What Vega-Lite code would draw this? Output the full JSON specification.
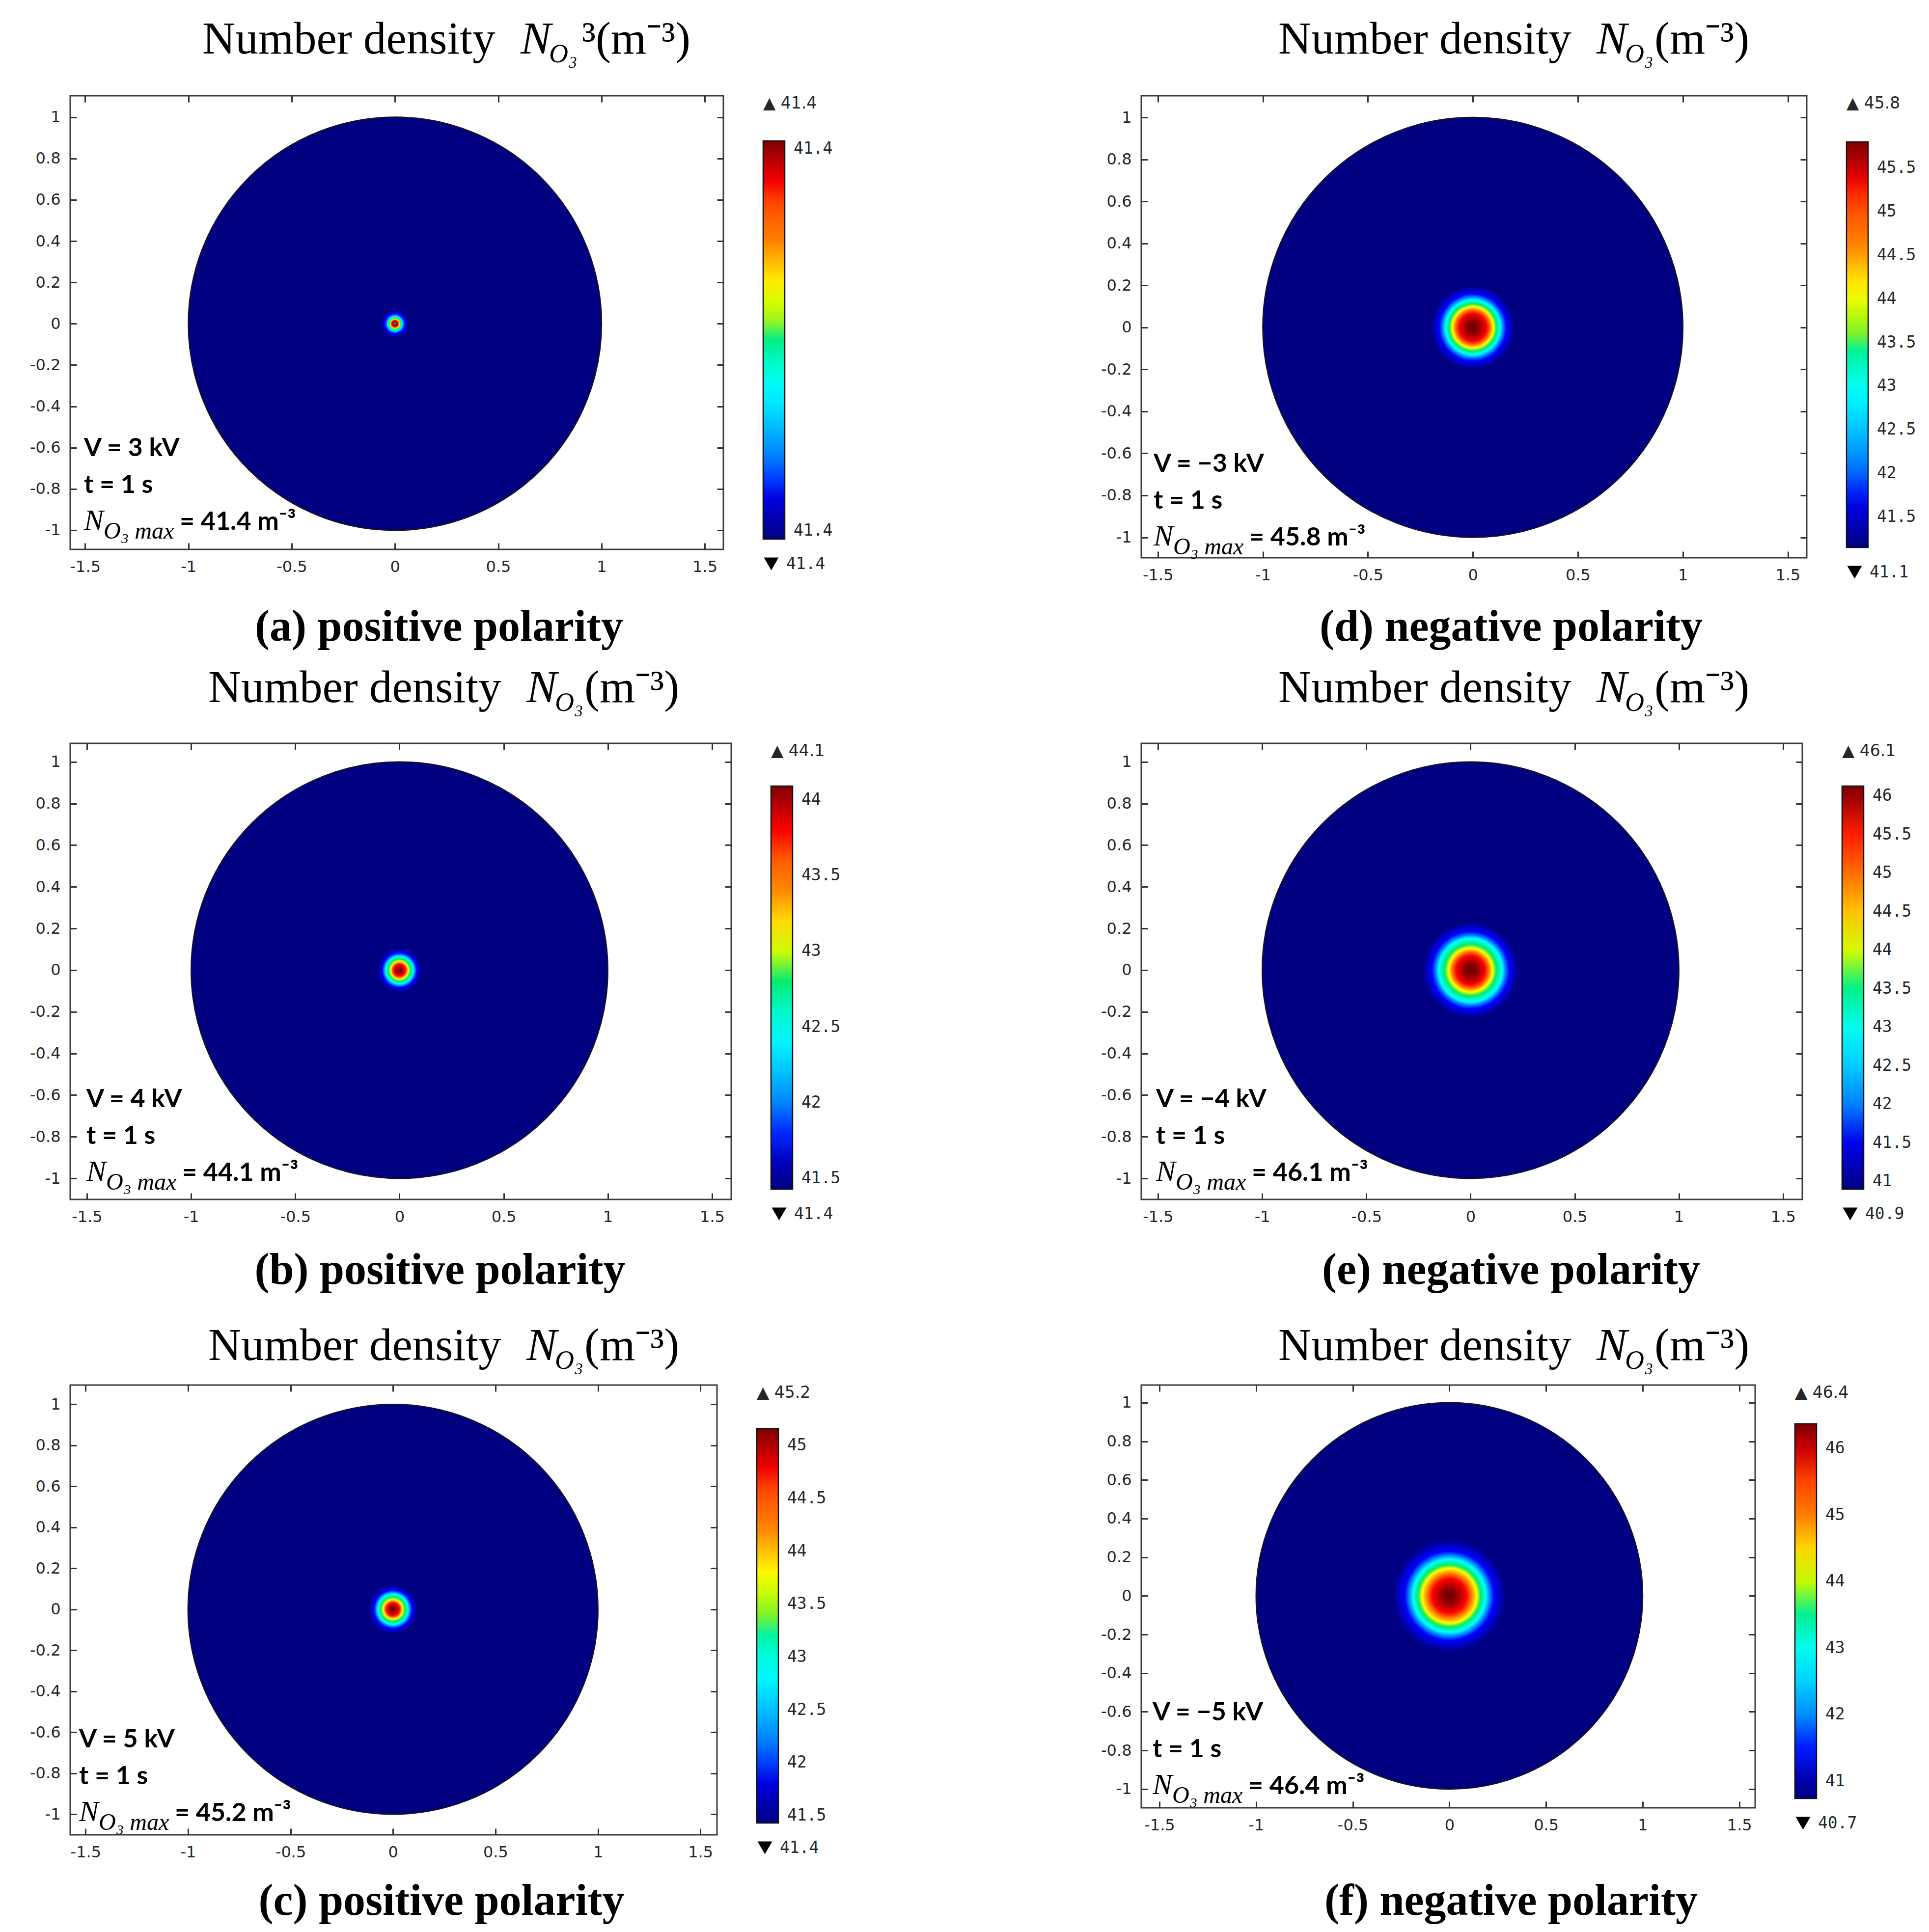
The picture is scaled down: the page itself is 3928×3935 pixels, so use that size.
{
"$schema":"https://vega.github.io/schema/vega-lite/v6.json",
"background":"white",
"padding":{"left":59,"top":33,"right":20,"bottom":20},
"datasets":{"p":[
{"id":"a","cx":0,"cy":0,"vmax":41.4,"lo":"41.4","t1":"Number density","t2":"N","t3":"O₃","t4":"³(m⁻³)","v":"V = 3 kV","tt":"t = 1 s","n1":"N","n2":"O₃ max","n3":"= 41.4 m⁻³","lab":"(a) positive polarity"},
{"id":"d","cx":0,"cy":0,"vmax":45.8,"lo":"41.1","t1":"Number density","t2":"N","t3":"O₃","t4":"(m⁻³)","v":"V = −3 kV","tt":"t = 1 s","n1":"N","n2":"O₃ max","n3":"= 45.8 m⁻³","lab":"(d) negative polarity"},
{"id":"b","cx":0,"cy":0,"vmax":44.1,"lo":"41.4","t1":"Number density","t2":"N","t3":"O₃","t4":"(m⁻³)","v":"V = 4 kV","tt":"t = 1 s","n1":"N","n2":"O₃ max","n3":"= 44.1 m⁻³","lab":"(b) positive polarity"},
{"id":"e","cx":0,"cy":0,"vmax":46.1,"lo":"40.9","t1":"Number density","t2":"N","t3":"O₃","t4":"(m⁻³)","v":"V = −4 kV","tt":"t = 1 s","n1":"N","n2":"O₃ max","n3":"= 46.1 m⁻³","lab":"(e) negative polarity"},
{"id":"c","cx":0,"cy":0,"vmax":45.2,"lo":"41.4","t1":"Number density","t2":"N","t3":"O₃","t4":"(m⁻³)","v":"V = 5 kV","tt":"t = 1 s","n1":"N","n2":"O₃ max","n3":"= 45.2 m⁻³","lab":"(c) positive polarity"},
{"id":"f","cx":0,"cy":0,"vmax":46.4,"lo":"40.7","t1":"Number density","t2":"N","t3":"O₃","t4":"(m⁻³)","v":"V = −5 kV","tt":"t = 1 s","n1":"N","n2":"O₃ max","n3":"= 46.4 m⁻³","lab":"(f) negative polarity"}
]},
"data":{"name":"p"},
"columns":2,
"spacing":{"row":378,"column":835},
"bounds":"flush",
"align":"each",
"resolve":{"scale":{"x":"independent","y":"independent","color":"independent","shape":"independent"},"legend":{"color":"independent","shape":"independent"}},
"config":{
"view":{"stroke":"#3c3c3c","strokeWidth":3},
"axis":{"grid":false,"domain":false,"labelFont":"DejaVu Sans","labelFontSize":32,"labelColor":"#262626","tickColor":"#333333","tickWidth":3,"labelFlush":false,"labelOverlap":false},
"legend":{"orient":"right","offset":79,"padding":0,"labelFont":"DejaVu Sans Mono","labelFontSize":33,"labelColor":"#262626","titleFont":"DejaVu Sans","titleFontSize":33,"titleFontWeight":"normal","titleColor":"#262626"},
"style":{
"ttl":{"font":"Liberation Serif","fontSize":93,"align":"left","baseline":"alphabetic","color":"#000000"},
"ttlN":{"font":"Liberation Serif","fontSize":93,"fontStyle":"italic","align":"left","baseline":"alphabetic","color":"#000000"},
"ttlS":{"font":"Liberation Serif","fontSize":54,"fontStyle":"italic","align":"left","baseline":"alphabetic","color":"#000000"},
"ann":{"font":"Lato","fontSize":52,"fontWeight":"bold","align":"left","baseline":"alphabetic","color":"#000000"},
"annN":{"font":"Liberation Serif","fontSize":60,"fontStyle":"italic","align":"left","baseline":"alphabetic","color":"#000000"},
"annS":{"font":"Liberation Serif","fontSize":48,"fontStyle":"italic","align":"left","baseline":"alphabetic","color":"#000000"},
"lab":{"font":"Liberation Serif","fontSize":90,"fontWeight":"bold","align":"center","baseline":"alphabetic","color":"#000000"}
}},
"concat":[
{"width":1330,"height":924,"transform":[{"filter":"datum.id === 'a'"}],"resolve":{"axis":{"x":"independent","y":"independent"}},"layer":[
{"mark":{"type":"point","shape":"circle","filled":true,"opacity":1,"size":707954,"stroke":"#14142a","strokeWidth":2.5,"fill":{"gradient":"radial","x1":0.5,"y1":0.5,"r1":0,"x2":0.5,"y2":0.5,"r2":0.5,"stops":[{"offset":0,"color":"#600000"},{"offset":0.006,"color":"#9a0000"},{"offset":0.016,"color":"#ff0000"},{"offset":0.019,"color":"#ff8000"},{"offset":0.022,"color":"#ffff00"},{"offset":0.025,"color":"#70f030"},{"offset":0.028,"color":"#00ec70"},{"offset":0.034,"color":"#00ffff"},{"offset":0.041,"color":"#0080ff"},{"offset":0.048,"color":"#0000ff"},{"offset":0.067,"color":"#000080"},{"offset":1,"color":"#000080"}]}},
"encoding":{"x":{"field":"cx","type":"quantitative","scale":{"domain":[-1.572,1.59],"nice":false,"zero":false},"axis":{"orient":"bottom","values":[-1.5,-1,-0.5,0,0.5,1,1.5],"ticks":false,"labelPadding":20,"labelExpr":"'' + datum.value","title":null}},"y":{"field":"cy","type":"quantitative","scale":{"domain":[-1.093,1.104],"nice":false,"zero":false},"axis":{"orient":"left","values":[-1,-0.8,-0.6,-0.4,-0.2,0,0.2,0.4,0.6,0.8,1],"ticks":false,"labelPadding":20,"labelExpr":"'' + datum.value","title":null}}}},
{"mark":{"type":"point","opacity":0},"encoding":{"x":{"field":"cx","type":"quantitative","axis":{"orient":"bottom","values":[-1.5,-1,-0.5,0,0.5,1,1.5],"labels":false,"tickSize":13,"offset":-13,"title":null}},"y":{"field":"cy","type":"quantitative","axis":{"orient":"left","values":[-1,-0.8,-0.6,-0.4,-0.2,0,0.2,0.4,0.6,0.8,1],"labels":false,"tickSize":13,"offset":-13,"title":null}}}},
{"mark":{"type":"point","opacity":0},"encoding":{"x":{"field":"cx","type":"quantitative","axis":{"orient":"top","values":[-1.5,-1,-0.5,0,0.5,1,1.5],"labels":false,"tickSize":13,"offset":-13,"title":null}},"y":{"field":"cy","type":"quantitative","axis":{"orient":"right","values":[-1,-0.8,-0.6,-0.4,-0.2,0,0.2,0.4,0.6,0.8,1],"labels":false,"tickSize":13,"offset":-13,"title":null}}}},
{"mark":{"type":"point","filled":true,"opacity":1,"size":20},"encoding":{"x":{"field":"cx","type":"quantitative","axis":null},"y":{"field":"cy","type":"quantitative","axis":null},
"color":{"field":"vmax","type":"quantitative","scale":{"domain":[41.395,41.3963,41.3988,41.40015,41.4002,41.4013,41.4025,41.4039,41.405],"range":["#000080","#0000ff","#00ffff","#00ec70","#70f030","#ffff00","#ff8000","#ff0000","#800000"]},"legend":{"type":"gradient","direction":"vertical","gradientLength":811,"gradientThickness":44,"gradientStrokeColor":"#111111","gradientStrokeWidth":2.5,"values":[41.395,41.405],"labelExpr":"format(datum.value, '.1f')","labelOverlap":false,"labelOffset":18,"title":"▲ 41.4","titlePadding":59}},
"shape":{"field":"lo","type":"nominal","scale":{"range":["triangle-down"]},"legend":{"title":" ","titleFontSize":8,"titlePadding":16,"symbolSize":900,"symbolFillColor":"#000000","symbolStrokeColor":"#000000","symbolStrokeWidth":0,"labelOffset":14,"direction":"vertical"}}}},
{"mark":{"type":"text","style":"ttl","dx":269,"dy":-86},"encoding":{"x":{"datum":-1.572,"type":"quantitative","axis":null},"y":{"datum":1.104,"type":"quantitative","axis":null},"text":{"field":"t1"}}},
{"mark":{"type":"text","style":"ttlN","dx":917,"dy":-86},"encoding":{"x":{"datum":-1.572,"type":"quantitative","axis":null},"y":{"datum":1.104,"type":"quantitative","axis":null},"text":{"field":"t2"}}},
{"mark":{"type":"text","style":"ttlS","dx":975,"dy":-68},"encoding":{"x":{"datum":-1.572,"type":"quantitative","axis":null},"y":{"datum":1.104,"type":"quantitative","axis":null},"text":{"field":"t3"}}},
{"mark":{"type":"text","style":"ttl","dx":1042,"dy":-86},"encoding":{"x":{"datum":-1.572,"type":"quantitative","axis":null},"y":{"datum":1.104,"type":"quantitative","axis":null},"text":{"field":"t4"}}},
{"mark":{"type":"text","style":"ann","dx":28,"dy":-190},"encoding":{"x":{"datum":-1.572,"type":"quantitative","axis":null},"y":{"datum":-1.093,"type":"quantitative","axis":null},"text":{"field":"v"}}},
{"mark":{"type":"text","style":"ann","dx":28,"dy":-115},"encoding":{"x":{"datum":-1.572,"type":"quantitative","axis":null},"y":{"datum":-1.093,"type":"quantitative","axis":null},"text":{"field":"tt"}}},
{"mark":{"type":"text","style":"annN","dx":28,"dy":-40},"encoding":{"x":{"datum":-1.572,"type":"quantitative","axis":null},"y":{"datum":-1.093,"type":"quantitative","axis":null},"text":{"field":"n1"}}},
{"mark":{"type":"text","style":"annS","dx":68,"dy":-22},"encoding":{"x":{"datum":-1.572,"type":"quantitative","axis":null},"y":{"datum":-1.093,"type":"quantitative","axis":null},"text":{"field":"n2"}}},
{"mark":{"type":"text","style":"ann","dx":223,"dy":-40},"encoding":{"x":{"datum":-1.572,"type":"quantitative","axis":null},"y":{"datum":-1.093,"type":"quantitative","axis":null},"text":{"field":"n3"}}},
{"mark":{"type":"text","style":"lab","dx":751,"dy":186},"encoding":{"x":{"datum":-1.572,"type":"quantitative","axis":null},"y":{"datum":-1.093,"type":"quantitative","axis":null},"text":{"field":"lab"}}}
]},
{"width":1355,"height":941,"transform":[{"filter":"datum.id === 'd'"}],"resolve":{"axis":{"x":"independent","y":"independent"}},"layer":[
{"mark":{"type":"point","shape":"circle","filled":true,"opacity":1,"size":731709,"stroke":"#14142a","strokeWidth":2.5,"fill":{"gradient":"radial","x1":0.5,"y1":0.5,"r1":0,"x2":0.5,"y2":0.5,"r2":0.5,"stops":[{"offset":0,"color":"#600000"},{"offset":0.035,"color":"#9a0000"},{"offset":0.066,"color":"#ff0000"},{"offset":0.084,"color":"#ff8000"},{"offset":0.098,"color":"#ffff00"},{"offset":0.107,"color":"#70f030"},{"offset":0.113,"color":"#00ec70"},{"offset":0.13,"color":"#00ffff"},{"offset":0.145,"color":"#0080ff"},{"offset":0.16,"color":"#0000ff"},{"offset":0.2,"color":"#000080"},{"offset":1,"color":"#000080"}]}},
"encoding":{"x":{"field":"cx","type":"quantitative","scale":{"domain":[-1.579,1.59],"nice":false,"zero":false},"axis":{"orient":"bottom","values":[-1.5,-1,-0.5,0,0.5,1,1.5],"ticks":false,"labelPadding":20,"labelExpr":"'' + datum.value","title":null}},"y":{"field":"cy","type":"quantitative","scale":{"domain":[-1.097,1.103],"nice":false,"zero":false},"axis":{"orient":"left","values":[-1,-0.8,-0.6,-0.4,-0.2,0,0.2,0.4,0.6,0.8,1],"ticks":false,"labelPadding":20,"labelExpr":"'' + datum.value","title":null}}}},
{"mark":{"type":"point","opacity":0},"encoding":{"x":{"field":"cx","type":"quantitative","axis":{"orient":"bottom","values":[-1.5,-1,-0.5,0,0.5,1,1.5],"labels":false,"tickSize":13,"offset":-13,"title":null}},"y":{"field":"cy","type":"quantitative","axis":{"orient":"left","values":[-1,-0.8,-0.6,-0.4,-0.2,0,0.2,0.4,0.6,0.8,1],"labels":false,"tickSize":13,"offset":-13,"title":null}}}},
{"mark":{"type":"point","opacity":0},"encoding":{"x":{"field":"cx","type":"quantitative","axis":{"orient":"top","values":[-1.5,-1,-0.5,0,0.5,1,1.5],"labels":false,"tickSize":13,"offset":-13,"title":null}},"y":{"field":"cy","type":"quantitative","axis":{"orient":"right","values":[-1,-0.8,-0.6,-0.4,-0.2,0,0.2,0.4,0.6,0.8,1],"labels":false,"tickSize":13,"offset":-13,"title":null}}}},
{"mark":{"type":"point","filled":true,"opacity":1,"size":20},"encoding":{"x":{"field":"cx","type":"quantitative","axis":null},"y":{"field":"cy","type":"quantitative","axis":null},
"color":{"field":"vmax","type":"quantitative","scale":{"domain":[41.15,41.7545,42.917,43.54475,43.568,44.0795,44.6375,45.2885,45.8],"range":["#000080","#0000ff","#00ffff","#00ec70","#70f030","#ffff00","#ff8000","#ff0000","#800000"]},"legend":{"type":"gradient","direction":"vertical","gradientLength":826,"gradientThickness":44,"gradientStrokeColor":"#111111","gradientStrokeWidth":2.5,"values":[41.5,42,42.5,43,43.5,44,44.5,45,45.5],"labelExpr":"format(datum.value, '~g')","labelOverlap":false,"labelOffset":18,"title":"▲ 45.8","titlePadding":61}},
"shape":{"field":"lo","type":"nominal","scale":{"range":["triangle-down"]},"legend":{"title":" ","titleFontSize":8,"titlePadding":16,"symbolSize":900,"symbolFillColor":"#000000","symbolStrokeColor":"#000000","symbolStrokeWidth":0,"labelOffset":14,"direction":"vertical"}}}},
{"mark":{"type":"text","style":"ttl","dx":279,"dy":-86},"encoding":{"x":{"datum":-1.579,"type":"quantitative","axis":null},"y":{"datum":1.103,"type":"quantitative","axis":null},"text":{"field":"t1"}}},
{"mark":{"type":"text","style":"ttlN","dx":927,"dy":-86},"encoding":{"x":{"datum":-1.579,"type":"quantitative","axis":null},"y":{"datum":1.103,"type":"quantitative","axis":null},"text":{"field":"t2"}}},
{"mark":{"type":"text","style":"ttlS","dx":985,"dy":-68},"encoding":{"x":{"datum":-1.579,"type":"quantitative","axis":null},"y":{"datum":1.103,"type":"quantitative","axis":null},"text":{"field":"t3"}}},
{"mark":{"type":"text","style":"ttl","dx":1045,"dy":-86},"encoding":{"x":{"datum":-1.579,"type":"quantitative","axis":null},"y":{"datum":1.103,"type":"quantitative","axis":null},"text":{"field":"t4"}}},
{"mark":{"type":"text","style":"ann","dx":25,"dy":-175},"encoding":{"x":{"datum":-1.579,"type":"quantitative","axis":null},"y":{"datum":-1.097,"type":"quantitative","axis":null},"text":{"field":"v"}}},
{"mark":{"type":"text","style":"ann","dx":25,"dy":-100},"encoding":{"x":{"datum":-1.579,"type":"quantitative","axis":null},"y":{"datum":-1.097,"type":"quantitative","axis":null},"text":{"field":"tt"}}},
{"mark":{"type":"text","style":"annN","dx":25,"dy":-25},"encoding":{"x":{"datum":-1.579,"type":"quantitative","axis":null},"y":{"datum":-1.097,"type":"quantitative","axis":null},"text":{"field":"n1"}}},
{"mark":{"type":"text","style":"annS","dx":65,"dy":-7},"encoding":{"x":{"datum":-1.579,"type":"quantitative","axis":null},"y":{"datum":-1.097,"type":"quantitative","axis":null},"text":{"field":"n2"}}},
{"mark":{"type":"text","style":"ann","dx":220,"dy":-25},"encoding":{"x":{"datum":-1.579,"type":"quantitative","axis":null},"y":{"datum":-1.097,"type":"quantitative","axis":null},"text":{"field":"n3"}}},
{"mark":{"type":"text","style":"lab","dx":753,"dy":169},"encoding":{"x":{"datum":-1.579,"type":"quantitative","axis":null},"y":{"datum":-1.097,"type":"quantitative","axis":null},"text":{"field":"lab"}}}
]},
{"width":1346,"height":929,"transform":[{"filter":"datum.id === 'b'"}],"resolve":{"axis":{"x":"independent","y":"independent"}},"layer":[
{"mark":{"type":"point","shape":"circle","filled":true,"opacity":1,"size":719783,"stroke":"#14142a","strokeWidth":2.5,"fill":{"gradient":"radial","x1":0.5,"y1":0.5,"r1":0,"x2":0.5,"y2":0.5,"r2":0.5,"stops":[{"offset":0,"color":"#600000"},{"offset":0.012,"color":"#9a0000"},{"offset":0.028,"color":"#ff0000"},{"offset":0.036,"color":"#ff8000"},{"offset":0.042,"color":"#ffff00"},{"offset":0.049,"color":"#70f030"},{"offset":0.053,"color":"#00ec70"},{"offset":0.066,"color":"#00ffff"},{"offset":0.075,"color":"#0080ff"},{"offset":0.083,"color":"#0000ff"},{"offset":0.106,"color":"#000080"},{"offset":1,"color":"#000080"}]}},
"encoding":{"x":{"field":"cx","type":"quantitative","scale":{"domain":[-1.58,1.592],"nice":false,"zero":false},"axis":{"orient":"bottom","values":[-1.5,-1,-0.5,0,0.5,1,1.5],"ticks":false,"labelPadding":20,"labelExpr":"'' + datum.value","title":null}},"y":{"field":"cy","type":"quantitative","scale":{"domain":[-1.101,1.089],"nice":false,"zero":false},"axis":{"orient":"left","values":[-1,-0.8,-0.6,-0.4,-0.2,0,0.2,0.4,0.6,0.8,1],"ticks":false,"labelPadding":20,"labelExpr":"'' + datum.value","title":null}}}},
{"mark":{"type":"point","opacity":0},"encoding":{"x":{"field":"cx","type":"quantitative","axis":{"orient":"bottom","values":[-1.5,-1,-0.5,0,0.5,1,1.5],"labels":false,"tickSize":13,"offset":-13,"title":null}},"y":{"field":"cy","type":"quantitative","axis":{"orient":"left","values":[-1,-0.8,-0.6,-0.4,-0.2,0,0.2,0.4,0.6,0.8,1],"labels":false,"tickSize":13,"offset":-13,"title":null}}}},
{"mark":{"type":"point","opacity":0},"encoding":{"x":{"field":"cx","type":"quantitative","axis":{"orient":"top","values":[-1.5,-1,-0.5,0,0.5,1,1.5],"labels":false,"tickSize":13,"offset":-13,"title":null}},"y":{"field":"cy","type":"quantitative","axis":{"orient":"right","values":[-1,-0.8,-0.6,-0.4,-0.2,0,0.2,0.4,0.6,0.8,1],"labels":false,"tickSize":13,"offset":-13,"title":null}}}},
{"mark":{"type":"point","filled":true,"opacity":1,"size":20},"encoding":{"x":{"field":"cx","type":"quantitative","axis":null},"y":{"field":"cy","type":"quantitative","axis":null},
"color":{"field":"vmax","type":"quantitative","scale":{"domain":[41.43,41.7758,42.4408,42.7999,42.8132,43.1058,43.425,43.7974,44.09],"range":["#000080","#0000ff","#00ffff","#00ec70","#70f030","#ffff00","#ff8000","#ff0000","#800000"]},"legend":{"type":"gradient","direction":"vertical","gradientLength":821,"gradientThickness":44,"gradientStrokeColor":"#111111","gradientStrokeWidth":2.5,"values":[41.5,42,42.5,43,43.5,44],"labelExpr":"format(datum.value, '~g')","labelOverlap":false,"labelOffset":18,"title":"▲ 44.1","titlePadding":54}},
"shape":{"field":"lo","type":"nominal","scale":{"range":["triangle-down"]},"legend":{"title":" ","titleFontSize":8,"titlePadding":16,"symbolSize":900,"symbolFillColor":"#000000","symbolStrokeColor":"#000000","symbolStrokeWidth":0,"labelOffset":14,"direction":"vertical"}}}},
{"mark":{"type":"text","style":"ttl","dx":281,"dy":-84},"encoding":{"x":{"datum":-1.58,"type":"quantitative","axis":null},"y":{"datum":1.089,"type":"quantitative","axis":null},"text":{"field":"t1"}}},
{"mark":{"type":"text","style":"ttlN","dx":929,"dy":-84},"encoding":{"x":{"datum":-1.58,"type":"quantitative","axis":null},"y":{"datum":1.089,"type":"quantitative","axis":null},"text":{"field":"t2"}}},
{"mark":{"type":"text","style":"ttlS","dx":987,"dy":-66},"encoding":{"x":{"datum":-1.58,"type":"quantitative","axis":null},"y":{"datum":1.089,"type":"quantitative","axis":null},"text":{"field":"t3"}}},
{"mark":{"type":"text","style":"ttl","dx":1047,"dy":-84},"encoding":{"x":{"datum":-1.58,"type":"quantitative","axis":null},"y":{"datum":1.089,"type":"quantitative","axis":null},"text":{"field":"t4"}}},
{"mark":{"type":"text","style":"ann","dx":33,"dy":-188},"encoding":{"x":{"datum":-1.58,"type":"quantitative","axis":null},"y":{"datum":-1.101,"type":"quantitative","axis":null},"text":{"field":"v"}}},
{"mark":{"type":"text","style":"ann","dx":33,"dy":-113},"encoding":{"x":{"datum":-1.58,"type":"quantitative","axis":null},"y":{"datum":-1.101,"type":"quantitative","axis":null},"text":{"field":"tt"}}},
{"mark":{"type":"text","style":"annN","dx":33,"dy":-38},"encoding":{"x":{"datum":-1.58,"type":"quantitative","axis":null},"y":{"datum":-1.101,"type":"quantitative","axis":null},"text":{"field":"n1"}}},
{"mark":{"type":"text","style":"annS","dx":73,"dy":-20},"encoding":{"x":{"datum":-1.58,"type":"quantitative","axis":null},"y":{"datum":-1.101,"type":"quantitative","axis":null},"text":{"field":"n2"}}},
{"mark":{"type":"text","style":"ann","dx":228,"dy":-38},"encoding":{"x":{"datum":-1.58,"type":"quantitative","axis":null},"y":{"datum":-1.101,"type":"quantitative","axis":null},"text":{"field":"n3"}}},
{"mark":{"type":"text","style":"lab","dx":753,"dy":172},"encoding":{"x":{"datum":-1.58,"type":"quantitative","axis":null},"y":{"datum":-1.101,"type":"quantitative","axis":null},"text":{"field":"lab"}}}
]},
{"width":1346,"height":929,"transform":[{"filter":"datum.id === 'e'"}],"resolve":{"axis":{"x":"independent","y":"independent"}},"layer":[
{"mark":{"type":"point","shape":"circle","filled":true,"opacity":1,"size":719783,"stroke":"#14142a","strokeWidth":2.5,"fill":{"gradient":"radial","x1":0.5,"y1":0.5,"r1":0,"x2":0.5,"y2":0.5,"r2":0.5,"stops":[{"offset":0,"color":"#600000"},{"offset":0.037,"color":"#9a0000"},{"offset":0.069,"color":"#ff0000"},{"offset":0.089,"color":"#ff8000"},{"offset":0.105,"color":"#ffff00"},{"offset":0.117,"color":"#70f030"},{"offset":0.124,"color":"#00ec70"},{"offset":0.153,"color":"#00ffff"},{"offset":0.168,"color":"#0080ff"},{"offset":0.186,"color":"#0000ff"},{"offset":0.231,"color":"#000080"},{"offset":1,"color":"#000080"}]}},
"encoding":{"x":{"field":"cx","type":"quantitative","scale":{"domain":[-1.58,1.592],"nice":false,"zero":false},"axis":{"orient":"bottom","values":[-1.5,-1,-0.5,0,0.5,1,1.5],"ticks":false,"labelPadding":20,"labelExpr":"'' + datum.value","title":null}},"y":{"field":"cy","type":"quantitative","scale":{"domain":[-1.101,1.089],"nice":false,"zero":false},"axis":{"orient":"left","values":[-1,-0.8,-0.6,-0.4,-0.2,0,0.2,0.4,0.6,0.8,1],"ticks":false,"labelPadding":20,"labelExpr":"'' + datum.value","title":null}}}},
{"mark":{"type":"point","opacity":0},"encoding":{"x":{"field":"cx","type":"quantitative","axis":{"orient":"bottom","values":[-1.5,-1,-0.5,0,0.5,1,1.5],"labels":false,"tickSize":13,"offset":-13,"title":null}},"y":{"field":"cy","type":"quantitative","axis":{"orient":"left","values":[-1,-0.8,-0.6,-0.4,-0.2,0,0.2,0.4,0.6,0.8,1],"labels":false,"tickSize":13,"offset":-13,"title":null}}}},
{"mark":{"type":"point","opacity":0},"encoding":{"x":{"field":"cx","type":"quantitative","axis":{"orient":"top","values":[-1.5,-1,-0.5,0,0.5,1,1.5],"labels":false,"tickSize":13,"offset":-13,"title":null}},"y":{"field":"cy","type":"quantitative","axis":{"orient":"right","values":[-1,-0.8,-0.6,-0.4,-0.2,0,0.2,0.4,0.6,0.8,1],"labels":false,"tickSize":13,"offset":-13,"title":null}}}},
{"mark":{"type":"point","filled":true,"opacity":1,"size":20},"encoding":{"x":{"field":"cx","type":"quantitative","axis":null},"y":{"field":"cy","type":"quantitative","axis":null},
"color":{"field":"vmax","type":"quantitative","scale":{"domain":[40.9,41.5799,42.8874,43.59345,43.6196,44.1949,44.8225,45.5547,46.13],"range":["#000080","#0000ff","#00ffff","#00ec70","#70f030","#ffff00","#ff8000","#ff0000","#800000"]},"legend":{"type":"gradient","direction":"vertical","gradientLength":821,"gradientThickness":44,"gradientStrokeColor":"#111111","gradientStrokeWidth":2.5,"values":[41,41.5,42,42.5,43,43.5,44,44.5,45,45.5,46],"labelExpr":"format(datum.value, '~g')","labelOverlap":false,"labelOffset":18,"title":"▲ 46.1","titlePadding":54}},
"shape":{"field":"lo","type":"nominal","scale":{"range":["triangle-down"]},"legend":{"title":" ","titleFontSize":8,"titlePadding":16,"symbolSize":900,"symbolFillColor":"#000000","symbolStrokeColor":"#000000","symbolStrokeWidth":0,"labelOffset":14,"direction":"vertical"}}}},
{"mark":{"type":"text","style":"ttl","dx":279,"dy":-84},"encoding":{"x":{"datum":-1.58,"type":"quantitative","axis":null},"y":{"datum":1.089,"type":"quantitative","axis":null},"text":{"field":"t1"}}},
{"mark":{"type":"text","style":"ttlN","dx":927,"dy":-84},"encoding":{"x":{"datum":-1.58,"type":"quantitative","axis":null},"y":{"datum":1.089,"type":"quantitative","axis":null},"text":{"field":"t2"}}},
{"mark":{"type":"text","style":"ttlS","dx":985,"dy":-66},"encoding":{"x":{"datum":-1.58,"type":"quantitative","axis":null},"y":{"datum":1.089,"type":"quantitative","axis":null},"text":{"field":"t3"}}},
{"mark":{"type":"text","style":"ttl","dx":1045,"dy":-84},"encoding":{"x":{"datum":-1.58,"type":"quantitative","axis":null},"y":{"datum":1.089,"type":"quantitative","axis":null},"text":{"field":"t4"}}},
{"mark":{"type":"text","style":"ann","dx":30,"dy":-188},"encoding":{"x":{"datum":-1.58,"type":"quantitative","axis":null},"y":{"datum":-1.101,"type":"quantitative","axis":null},"text":{"field":"v"}}},
{"mark":{"type":"text","style":"ann","dx":30,"dy":-113},"encoding":{"x":{"datum":-1.58,"type":"quantitative","axis":null},"y":{"datum":-1.101,"type":"quantitative","axis":null},"text":{"field":"tt"}}},
{"mark":{"type":"text","style":"annN","dx":30,"dy":-38},"encoding":{"x":{"datum":-1.58,"type":"quantitative","axis":null},"y":{"datum":-1.101,"type":"quantitative","axis":null},"text":{"field":"n1"}}},
{"mark":{"type":"text","style":"annS","dx":70,"dy":-20},"encoding":{"x":{"datum":-1.58,"type":"quantitative","axis":null},"y":{"datum":-1.101,"type":"quantitative","axis":null},"text":{"field":"n2"}}},
{"mark":{"type":"text","style":"ann","dx":225,"dy":-38},"encoding":{"x":{"datum":-1.58,"type":"quantitative","axis":null},"y":{"datum":-1.101,"type":"quantitative","axis":null},"text":{"field":"n3"}}},
{"mark":{"type":"text","style":"lab","dx":753,"dy":172},"encoding":{"x":{"datum":-1.58,"type":"quantitative","axis":null},"y":{"datum":-1.101,"type":"quantitative","axis":null},"text":{"field":"lab"}}}
]},
{"width":1317,"height":916,"transform":[{"filter":"datum.id === 'c'"}],"resolve":{"axis":{"x":"independent","y":"independent"}},"layer":[
{"mark":{"type":"point","shape":"circle","filled":true,"opacity":1,"size":696891,"stroke":"#14142a","strokeWidth":2.5,"fill":{"gradient":"radial","x1":0.5,"y1":0.5,"r1":0,"x2":0.5,"y2":0.5,"r2":0.5,"stops":[{"offset":0,"color":"#600000"},{"offset":0.014,"color":"#9a0000"},{"offset":0.031,"color":"#ff0000"},{"offset":0.04,"color":"#ff8000"},{"offset":0.047,"color":"#ffff00"},{"offset":0.055,"color":"#70f030"},{"offset":0.06,"color":"#00ec70"},{"offset":0.074,"color":"#00ffff"},{"offset":0.084,"color":"#0080ff"},{"offset":0.093,"color":"#0000ff"},{"offset":0.12,"color":"#000080"},{"offset":1,"color":"#000080"}]}},
"encoding":{"x":{"field":"cx","type":"quantitative","scale":{"domain":[-1.575,1.581],"nice":false,"zero":false},"axis":{"orient":"bottom","values":[-1.5,-1,-0.5,0,0.5,1,1.5],"ticks":false,"labelPadding":20,"labelExpr":"'' + datum.value","title":null}},"y":{"field":"cy","type":"quantitative","scale":{"domain":[-1.1,1.094],"nice":false,"zero":false},"axis":{"orient":"left","values":[-1,-0.8,-0.6,-0.4,-0.2,0,0.2,0.4,0.6,0.8,1],"ticks":false,"labelPadding":20,"labelExpr":"'' + datum.value","title":null}}}},
{"mark":{"type":"point","opacity":0},"encoding":{"x":{"field":"cx","type":"quantitative","axis":{"orient":"bottom","values":[-1.5,-1,-0.5,0,0.5,1,1.5],"labels":false,"tickSize":13,"offset":-13,"title":null}},"y":{"field":"cy","type":"quantitative","axis":{"orient":"left","values":[-1,-0.8,-0.6,-0.4,-0.2,0,0.2,0.4,0.6,0.8,1],"labels":false,"tickSize":13,"offset":-13,"title":null}}}},
{"mark":{"type":"point","opacity":0},"encoding":{"x":{"field":"cx","type":"quantitative","axis":{"orient":"top","values":[-1.5,-1,-0.5,0,0.5,1,1.5],"labels":false,"tickSize":13,"offset":-13,"title":null}},"y":{"field":"cy","type":"quantitative","axis":{"orient":"right","values":[-1,-0.8,-0.6,-0.4,-0.2,0,0.2,0.4,0.6,0.8,1],"labels":false,"tickSize":13,"offset":-13,"title":null}}}},
{"mark":{"type":"point","filled":true,"opacity":1,"size":20},"encoding":{"x":{"field":"cx","type":"quantitative","axis":null},"y":{"field":"cy","type":"quantitative","axis":null},
"color":{"field":"vmax","type":"quantitative","scale":{"domain":[41.43,41.9149,42.8474,43.35095,43.3696,43.7799,44.2275,44.7497,45.16],"range":["#000080","#0000ff","#00ffff","#00ec70","#70f030","#ffff00","#ff8000","#ff0000","#800000"]},"legend":{"type":"gradient","direction":"vertical","gradientLength":803,"gradientThickness":44,"gradientStrokeColor":"#111111","gradientStrokeWidth":2.5,"values":[41.5,42,42.5,43,43.5,44,44.5,45],"labelExpr":"format(datum.value, '~g')","labelOverlap":false,"labelOffset":18,"title":"▲ 45.2","titlePadding":56}},
"shape":{"field":"lo","type":"nominal","scale":{"range":["triangle-down"]},"legend":{"title":" ","titleFontSize":8,"titlePadding":16,"symbolSize":900,"symbolFillColor":"#000000","symbolStrokeColor":"#000000","symbolStrokeWidth":0,"labelOffset":14,"direction":"vertical"}}}},
{"mark":{"type":"text","style":"ttl","dx":281,"dy":-51},"encoding":{"x":{"datum":-1.575,"type":"quantitative","axis":null},"y":{"datum":1.094,"type":"quantitative","axis":null},"text":{"field":"t1"}}},
{"mark":{"type":"text","style":"ttlN","dx":929,"dy":-51},"encoding":{"x":{"datum":-1.575,"type":"quantitative","axis":null},"y":{"datum":1.094,"type":"quantitative","axis":null},"text":{"field":"t2"}}},
{"mark":{"type":"text","style":"ttlS","dx":987,"dy":-33},"encoding":{"x":{"datum":-1.575,"type":"quantitative","axis":null},"y":{"datum":1.094,"type":"quantitative","axis":null},"text":{"field":"t3"}}},
{"mark":{"type":"text","style":"ttl","dx":1047,"dy":-51},"encoding":{"x":{"datum":-1.575,"type":"quantitative","axis":null},"y":{"datum":1.094,"type":"quantitative","axis":null},"text":{"field":"t4"}}},
{"mark":{"type":"text","style":"ann","dx":18,"dy":-178},"encoding":{"x":{"datum":-1.575,"type":"quantitative","axis":null},"y":{"datum":-1.1,"type":"quantitative","axis":null},"text":{"field":"v"}}},
{"mark":{"type":"text","style":"ann","dx":18,"dy":-103},"encoding":{"x":{"datum":-1.575,"type":"quantitative","axis":null},"y":{"datum":-1.1,"type":"quantitative","axis":null},"text":{"field":"tt"}}},
{"mark":{"type":"text","style":"annN","dx":18,"dy":-28},"encoding":{"x":{"datum":-1.575,"type":"quantitative","axis":null},"y":{"datum":-1.1,"type":"quantitative","axis":null},"text":{"field":"n1"}}},
{"mark":{"type":"text","style":"annS","dx":58,"dy":-10},"encoding":{"x":{"datum":-1.575,"type":"quantitative","axis":null},"y":{"datum":-1.1,"type":"quantitative","axis":null},"text":{"field":"n2"}}},
{"mark":{"type":"text","style":"ann","dx":213,"dy":-28},"encoding":{"x":{"datum":-1.575,"type":"quantitative","axis":null},"y":{"datum":-1.1,"type":"quantitative","axis":null},"text":{"field":"n3"}}},
{"mark":{"type":"text","style":"lab","dx":756,"dy":163},"encoding":{"x":{"datum":-1.575,"type":"quantitative","axis":null},"y":{"datum":-1.1,"type":"quantitative","axis":null},"text":{"field":"lab"}}}
]},
{"width":1250,"height":861,"transform":[{"filter":"datum.id === 'f'"}],"resolve":{"axis":{"x":"independent","y":"independent"}},"layer":[
{"mark":{"type":"point","shape":"circle","filled":true,"opacity":1,"size":619684,"stroke":"#14142a","strokeWidth":2.5,"fill":{"gradient":"radial","x1":0.5,"y1":0.5,"r1":0,"x2":0.5,"y2":0.5,"r2":0.5,"stops":[{"offset":0,"color":"#600000"},{"offset":0.042,"color":"#9a0000"},{"offset":0.088,"color":"#ff0000"},{"offset":0.116,"color":"#ff8000"},{"offset":0.142,"color":"#ffff00"},{"offset":0.153,"color":"#70f030"},{"offset":0.163,"color":"#00ec70"},{"offset":0.188,"color":"#00ffff"},{"offset":0.21,"color":"#0080ff"},{"offset":0.231,"color":"#0000ff"},{"offset":0.294,"color":"#000080"},{"offset":1,"color":"#000080"}]}},
"encoding":{"x":{"field":"cx","type":"quantitative","scale":{"domain":[-1.594,1.582],"nice":false,"zero":false},"axis":{"orient":"bottom","values":[-1.5,-1,-0.5,0,0.5,1,1.5],"ticks":false,"labelPadding":20,"labelExpr":"'' + datum.value","title":null}},"y":{"field":"cy","type":"quantitative","scale":{"domain":[-1.097,1.091],"nice":false,"zero":false},"axis":{"orient":"left","values":[-1,-0.8,-0.6,-0.4,-0.2,0,0.2,0.4,0.6,0.8,1],"ticks":false,"labelPadding":20,"labelExpr":"'' + datum.value","title":null}}}},
{"mark":{"type":"point","opacity":0},"encoding":{"x":{"field":"cx","type":"quantitative","axis":{"orient":"bottom","values":[-1.5,-1,-0.5,0,0.5,1,1.5],"labels":false,"tickSize":13,"offset":-13,"title":null}},"y":{"field":"cy","type":"quantitative","axis":{"orient":"left","values":[-1,-0.8,-0.6,-0.4,-0.2,0,0.2,0.4,0.6,0.8,1],"labels":false,"tickSize":13,"offset":-13,"title":null}}}},
{"mark":{"type":"point","opacity":0},"encoding":{"x":{"field":"cx","type":"quantitative","axis":{"orient":"top","values":[-1.5,-1,-0.5,0,0.5,1,1.5],"labels":false,"tickSize":13,"offset":-13,"title":null}},"y":{"field":"cy","type":"quantitative","axis":{"orient":"right","values":[-1,-0.8,-0.6,-0.4,-0.2,0,0.2,0.4,0.6,0.8,1],"labels":false,"tickSize":13,"offset":-13,"title":null}}}},
{"mark":{"type":"point","filled":true,"opacity":1,"size":20},"encoding":{"x":{"field":"cx","type":"quantitative","axis":null},"y":{"field":"cy","type":"quantitative","axis":null},
"color":{"field":"vmax","type":"quantitative","scale":{"domain":[40.74,41.4719,42.8794,43.63945,43.6676,44.2869,44.9625,45.7507,46.37],"range":["#000080","#0000ff","#00ffff","#00ec70","#70f030","#ffff00","#ff8000","#ff0000","#800000"]},"legend":{"type":"gradient","direction":"vertical","gradientLength":763,"gradientThickness":44,"gradientStrokeColor":"#111111","gradientStrokeWidth":2.5,"values":[41,42,43,44,45,46],"labelExpr":"format(datum.value, '~g')","labelOverlap":false,"labelOffset":18,"title":"▲ 46.4","titlePadding":46}},
"shape":{"field":"lo","type":"nominal","scale":{"range":["triangle-down"]},"legend":{"title":" ","titleFontSize":8,"titlePadding":16,"symbolSize":900,"symbolFillColor":"#000000","symbolStrokeColor":"#000000","symbolStrokeWidth":0,"labelOffset":14,"direction":"vertical"}}}},
{"mark":{"type":"text","style":"ttl","dx":279,"dy":-51},"encoding":{"x":{"datum":-1.594,"type":"quantitative","axis":null},"y":{"datum":1.091,"type":"quantitative","axis":null},"text":{"field":"t1"}}},
{"mark":{"type":"text","style":"ttlN","dx":927,"dy":-51},"encoding":{"x":{"datum":-1.594,"type":"quantitative","axis":null},"y":{"datum":1.091,"type":"quantitative","axis":null},"text":{"field":"t2"}}},
{"mark":{"type":"text","style":"ttlS","dx":985,"dy":-33},"encoding":{"x":{"datum":-1.594,"type":"quantitative","axis":null},"y":{"datum":1.091,"type":"quantitative","axis":null},"text":{"field":"t3"}}},
{"mark":{"type":"text","style":"ttl","dx":1045,"dy":-51},"encoding":{"x":{"datum":-1.594,"type":"quantitative","axis":null},"y":{"datum":1.091,"type":"quantitative","axis":null},"text":{"field":"t4"}}},
{"mark":{"type":"text","style":"ann","dx":23,"dy":-178},"encoding":{"x":{"datum":-1.594,"type":"quantitative","axis":null},"y":{"datum":-1.097,"type":"quantitative","axis":null},"text":{"field":"v"}}},
{"mark":{"type":"text","style":"ann","dx":23,"dy":-103},"encoding":{"x":{"datum":-1.594,"type":"quantitative","axis":null},"y":{"datum":-1.097,"type":"quantitative","axis":null},"text":{"field":"tt"}}},
{"mark":{"type":"text","style":"annN","dx":23,"dy":-28},"encoding":{"x":{"datum":-1.594,"type":"quantitative","axis":null},"y":{"datum":-1.097,"type":"quantitative","axis":null},"text":{"field":"n1"}}},
{"mark":{"type":"text","style":"annS","dx":63,"dy":-10},"encoding":{"x":{"datum":-1.594,"type":"quantitative","axis":null},"y":{"datum":-1.097,"type":"quantitative","axis":null},"text":{"field":"n2"}}},
{"mark":{"type":"text","style":"ann","dx":218,"dy":-28},"encoding":{"x":{"datum":-1.594,"type":"quantitative","axis":null},"y":{"datum":-1.097,"type":"quantitative","axis":null},"text":{"field":"n3"}}},
{"mark":{"type":"text","style":"lab","dx":753,"dy":218},"encoding":{"x":{"datum":-1.594,"type":"quantitative","axis":null},"y":{"datum":-1.097,"type":"quantitative","axis":null},"text":{"field":"lab"}}}
]}
]
}
